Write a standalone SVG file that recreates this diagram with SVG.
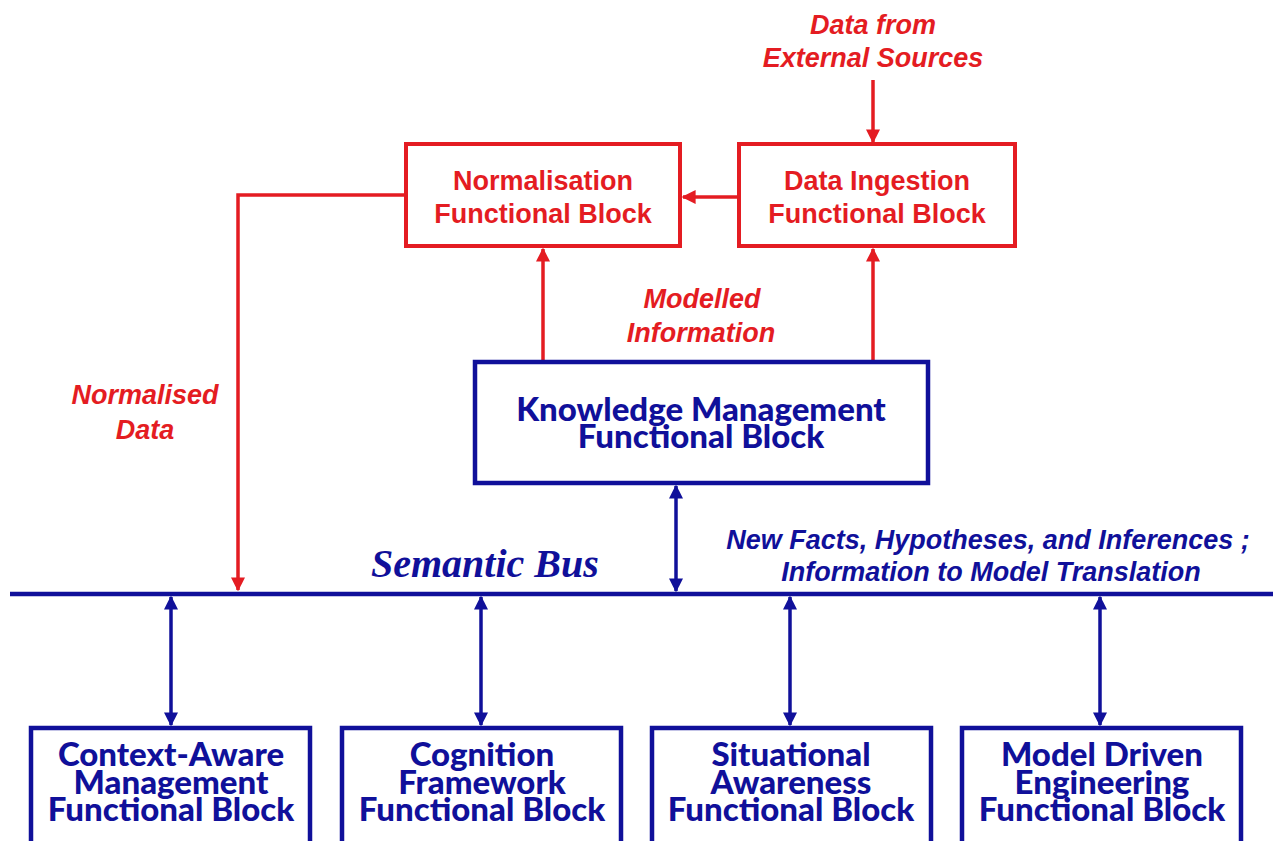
<svg xmlns="http://www.w3.org/2000/svg" width="1273" height="841" viewBox="0 0 1273 841">
  <style>
    .red-box { fill: #ffffff; stroke: #e41c22; stroke-width: 4; }
    .blue-box { fill: #ffffff; stroke: #10109a; stroke-width: 4.5; }
    .red-line { fill: none; stroke: #e41c22; stroke-width: 3.5; }
    .blue-line { fill: none; stroke: #10109a; stroke-width: 3.5; }
    .red-title { font-family: "Liberation Sans", Arial, sans-serif; font-weight: bold; font-size: 27px; fill: #e41c22; text-anchor: middle; }
    .red-note { font-family: "Liberation Sans", Arial, sans-serif; font-weight: bold; font-style: italic; font-size: 27px; fill: #e41c22; text-anchor: middle; }
    .blue-note { font-family: "Liberation Sans", Arial, sans-serif; font-weight: bold; font-style: italic; font-size: 27px; fill: #10109a; text-anchor: middle; }
    .blue-title { font-family: Lato, "Open Sans", sans-serif; font-weight: 900; font-size: 33px; fill: #10109a; text-anchor: middle; }
    .bus-label { font-family: "Liberation Serif", "Times New Roman", serif; font-weight: bold; font-style: italic; font-size: 40px; fill: #10109a; }
  </style>
  <defs>
    <marker id="redHead" viewBox="0 0 10 10" refX="9" refY="5" markerWidth="4" markerHeight="4.2" orient="auto" markerUnits="strokeWidth">
      <path d="M0,0 L10,5 L0,10 z" fill="#e41c22"/>
    </marker>
    <marker id="blueHead" viewBox="0 0 10 10" refX="9" refY="5" markerWidth="4" markerHeight="4.2" orient="auto-start-reverse" markerUnits="strokeWidth">
      <path d="M0,0 L10,5 L0,10 z" fill="#10109a"/>
    </marker>
  </defs>

  <rect width="1273" height="841" fill="#ffffff"/>

  <!-- connectors -->
  <g id="connectors">
    <!-- external data into ingestion -->
    <line class="red-line" x1="873" y1="80" x2="873" y2="142" marker-end="url(#redHead)"/>
    <!-- ingestion to normalisation -->
    <line class="red-line" x1="739" y1="197" x2="683" y2="197" marker-end="url(#redHead)"/>
    <!-- knowledge management up to the red blocks -->
    <line class="red-line" x1="543" y1="362" x2="543" y2="249" marker-end="url(#redHead)"/>
    <line class="red-line" x1="873" y1="362" x2="873" y2="249" marker-end="url(#redHead)"/>
    <!-- normalised data down to the bus -->
    <polyline class="red-line" points="406,195 238,195 238,590" marker-end="url(#redHead)"/>
    <!-- semantic bus -->
    <line x1="10" y1="594" x2="1273" y2="594" stroke="#10109a" stroke-width="4.5"/>
    <!-- knowledge management to bus -->
    <line class="blue-line" x1="676" y1="486" x2="676" y2="591" marker-start="url(#blueHead)" marker-end="url(#blueHead)"/>
    <!-- bus to lower blocks -->
    <line class="blue-line" x1="171" y1="597" x2="171" y2="725" marker-start="url(#blueHead)" marker-end="url(#blueHead)"/>
    <line class="blue-line" x1="481" y1="597" x2="481" y2="725" marker-start="url(#blueHead)" marker-end="url(#blueHead)"/>
    <line class="blue-line" x1="790" y1="597" x2="790" y2="725" marker-start="url(#blueHead)" marker-end="url(#blueHead)"/>
    <line class="blue-line" x1="1100" y1="597" x2="1100" y2="725" marker-start="url(#blueHead)" marker-end="url(#blueHead)"/>
  </g>

  <!-- labels -->
  <g id="labels">
    <text class="red-note" x="873" y="34">Data from</text>
    <text class="red-note" x="873" y="67">External Sources</text>
    <text class="red-note" x="702" y="308">Modelled</text>
    <text class="red-note" x="701" y="342">Information</text>
    <text class="red-note" x="145" y="404">Normalised</text>
    <text class="red-note" x="145" y="439">Data</text>
    <text class="bus-label" x="371" y="577">Semantic Bus</text>
    <text class="blue-note" x="988" y="549">New Facts, Hypotheses, and Inferences ;</text>
    <text class="blue-note" x="991" y="581">Information to Model Translation</text>
  </g>

  <g id="normalisation">
    <rect class="red-box" x="406" y="144" width="274" height="102"/>
    <text class="red-title" x="543" y="190">Normalisation</text>
    <text class="red-title" x="543" y="223">Functional Block</text>
  </g>

  <g id="data-ingestion">
    <rect class="red-box" x="739" y="144" width="276" height="102"/>
    <text class="red-title" x="877" y="190">Data Ingestion</text>
    <text class="red-title" x="877" y="223">Functional Block</text>
  </g>

  <g id="knowledge-management">
    <rect class="blue-box" x="475" y="362" width="453" height="121"/>
    <text class="blue-title" x="701" y="421">Knowledge Management</text>
    <text class="blue-title" x="701" y="448">Functional Block</text>
  </g>

  <g id="context-aware">
    <rect class="blue-box" x="31" y="728" width="279" height="130"/>
    <text class="blue-title" x="171" y="766">Context-Aware</text>
    <text class="blue-title" x="171" y="794">Management</text>
    <text class="blue-title" x="171" y="821">Functional Block</text>
  </g>

  <g id="cognition">
    <rect class="blue-box" x="342" y="728" width="279" height="130"/>
    <text class="blue-title" x="482" y="766">Cognition</text>
    <text class="blue-title" x="482" y="794">Framework</text>
    <text class="blue-title" x="482" y="821">Functional Block</text>
  </g>

  <g id="situational-awareness">
    <rect class="blue-box" x="652" y="728" width="279" height="130"/>
    <text class="blue-title" x="791" y="766">Situational</text>
    <text class="blue-title" x="791" y="794">Awareness</text>
    <text class="blue-title" x="791" y="821">Functional Block</text>
  </g>

  <g id="model-driven">
    <rect class="blue-box" x="962" y="728" width="279" height="130"/>
    <text class="blue-title" x="1102" y="766">Model Driven</text>
    <text class="blue-title" x="1102" y="794">Engineering</text>
    <text class="blue-title" x="1102" y="821">Functional Block</text>
  </g>
</svg>
